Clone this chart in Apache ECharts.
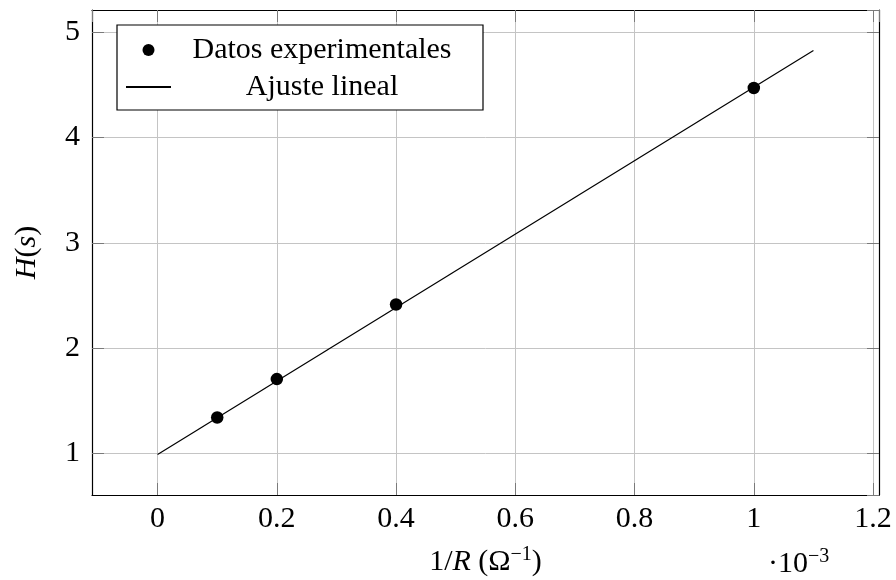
<!DOCTYPE html>
<html>
<head>
<meta charset="utf-8">
<script src="https://cdn.jsdelivr.net/npm/echarts@6/dist/echarts.min.js"></script>
<style>html,body{margin:0;padding:0;background:#fff}#c{width:896px;height:580px}</style>
</head>
<body>
<div id="c"></div>
<script>
// Data
const expX = [0.1, 0.2, 0.4, 1.0];
const expY = [1.342, 1.706, 2.414, 4.468];
const fitX = [0, 1.1];
const fitY = [0.99, 4.825];
const xRange = [-0.11, 1.21];
const yRange = [0.6065, 5.2085];
const seriesNames = ['Datos experimentales', 'Ajuste lineal'];

const FONT = '"Liberation Serif", "DejaVu Serif", serif';
const FS = 30;
const GRID_C = '#c4c4c4';
const TICK_C = '#7a7a7a';

const chart = echarts.init(document.getElementById('c'), null, {renderer: 'canvas'});

const baseAxis = {
  type: 'value',
  splitNumber: 6,
  axisLine: {show: true, onZero: false, lineStyle: {color: '#000', width: 1.2}},
  axisTick: {show: true, inside: true, length: 12, lineStyle: {color: TICK_C, width: 1}},
  splitLine: {show: true, lineStyle: {color: GRID_C, width: 1}},
  axisLabel: {show: true, showMinLabel: false, showMaxLabel: false,
    fontFamily: FONT, fontSize: FS, color: '#000'}
};
function axisCopy() { return JSON.parse(JSON.stringify(baseAxis)); }

const option = {
  animation: false,
  backgroundColor: '#fff',
  grid: {left: 92, top: 10, right: 17, bottom: 85, containLabel: false, outerBoundsMode: 'none'},
  legend: {
    orient: 'vertical',
    left: 117, top: 25,
    padding: [10, 15, 8, 8],
    itemGap: 7,
    itemWidth: 45, itemHeight: 12,
    backgroundColor: '#fff',
    borderColor: '#000', borderWidth: 1.2, borderRadius: 0,
    data: [
      {name: seriesNames[0], icon: 'circle'},
      {name: seriesNames[1], itemStyle: {color: 'rgba(0,0,0,0)', opacity: 0}}
    ],
    formatter: function (n) { return '{c|' + n + '}'; },
    textStyle: {fontFamily: FONT, fontSize: FS, color: '#000',
      rich: {c: {fontFamily: FONT, fontSize: FS, width: 292, align: 'center', lineHeight: 30}}}
  },
  xAxis: [
    Object.assign(axisCopy(), {
      min: xRange[0], max: xRange[1], position: 'bottom',
      axisLabel: Object.assign({}, baseAxis.axisLabel, {margin: 9}),
      name: '{n|1/}{i|R}{n| (Ω}{s|−1}{n|)}',
      nameLocation: 'middle', nameGap: 50,
      nameTextStyle: {fontFamily: FONT, fontSize: FS, color: '#000',
        rich: {
          n: {fontFamily: FONT, fontSize: FS, color: '#000'},
          i: {fontFamily: FONT, fontSize: FS, fontStyle: 'italic', color: '#000'},
          s: {fontFamily: FONT, fontSize: 20, color: '#000', padding: [0, 0, 14, 0]}
        }}
    }),
    Object.assign(axisCopy(), {
      min: xRange[0], max: xRange[1], position: 'top',
      axisLabel: {show: false}, splitLine: {show: false}
    })
  ],
  yAxis: [
    Object.assign(axisCopy(), {
      min: yRange[0], max: yRange[1], position: 'left', splitNumber: 5,
      axisLabel: Object.assign({}, baseAxis.axisLabel, {margin: 12}),
      name: '{i|H}{n|(}{i|s}{n|)}',
      nameLocation: 'middle', nameGap: 50, nameRotate: 90,
      nameTextStyle: {fontFamily: FONT, fontSize: FS, color: '#000',
        rich: {
          n: {fontFamily: FONT, fontSize: FS, color: '#000'},
          i: {fontFamily: FONT, fontSize: FS, fontStyle: 'italic', color: '#000'}
        }}
    }),
    Object.assign(axisCopy(), {
      min: yRange[0], max: yRange[1], position: 'right', splitNumber: 5,
      axisLabel: {show: false}, splitLine: {show: false}
    })
  ],
  graphic: [{
    type: 'text', left: 768, top: 547, z: 10,
    style: {
      text: '{n|·10}{s|−3}',
      rich: {
        n: {fontFamily: FONT, fontSize: FS, fill: '#000'},
        s: {fontFamily: FONT, fontSize: 20, fill: '#000', padding: [0, 0, 14, 0]}
      }
    }
  }],
  series: [
    {
      name: seriesNames[0], type: 'scatter',
      xAxisIndex: 0, yAxisIndex: 0,
      symbol: 'circle', symbolSize: 12.5,
      itemStyle: {color: '#000', opacity: 1},
      data: expX.map((x, i) => [x, expY[i]]),
      z: 4
    },
    {
      name: seriesNames[1], type: 'line',
      xAxisIndex: 0, yAxisIndex: 0,
      symbol: 'none', showSymbol: false,
      lineStyle: {color: '#000', width: 1.2},
      itemStyle: {color: 'rgba(0,0,0,0)'},
      data: fitX.map((x, i) => [x, fitY[i]]),
      z: 3
    }
  ]
};
chart.setOption(option);
</script>
</body>
</html>
